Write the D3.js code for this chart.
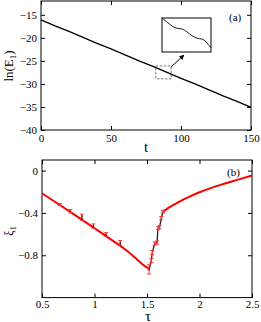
<!DOCTYPE html>
<html><head><meta charset="utf-8">
<script src="https://cdn.jsdelivr.net/npm/d3@7"></script>
<style>
html,body{margin:0;padding:0;background:#fff;}
svg{display:block;font-family:"Liberation Serif","Times New Roman",serif;}
</style></head>
<body><svg id="c" width="261" height="322"></svg>
<script>
// ---------- Panel (a) data ----------
const tVals   = [0,10,20,30,40,50,60,70,80,90,100,110,120,130,140,150];
const lnE     = [-16.1,-17.4,-18.6,-19.9,-21.2,-22.4,-23.7,-25.0,-26.2,-27.5,-28.8,-30.0,-31.3,-32.6,-33.8,-35.1];
const insetT  = [82.0,83.3,84.5,85.4,86.6,87.5,88.8,89.9,91.0,91.8,93.0];
const insetE  = [-26.12,-26.48,-26.85,-26.97,-26.98,-27.2,-27.6,-27.8,-27.8,-28.0,-28.55];
const aXTicks = [0,50,100,150];
const aYTicks = [-40,-35,-30,-25,-20,-15];

// ---------- Panel (b) data ----------
const fit1Tau = [0.5,0.6,0.7,0.8,0.9,1.0,1.1,1.2,1.3,1.4,1.45,1.5,1.52];
const fit1Xi  = [-0.214,-0.28,-0.345,-0.412,-0.478,-0.545,-0.612,-0.68,-0.75,-0.835,-0.88,-0.915,-0.925];
const fit2Tau = [1.652,1.7,1.8,1.9,2.0,2.1,2.2,2.3,2.4,2.5];
const fit2Xi  = [-0.388,-0.355,-0.297,-0.248,-0.205,-0.168,-0.135,-0.105,-0.076,-0.047];
const numTau  = [1.5,1.52,1.541,1.55,1.573,1.595,1.605,1.62,1.636,1.652];
const numXi   = [-0.915,-0.94,-0.85,-0.775,-0.69,-0.68,-0.545,-0.535,-0.45,-0.388];
const errTau  = [0.67,0.77,0.88,0.99,1.11,1.245,1.52,1.541,1.55,1.573,1.595,1.605,1.62,1.636,1.652];
const errXi   = [-0.323,-0.392,-0.466,-0.539,-0.617,-0.70,-0.935,-0.85,-0.775,-0.69,-0.68,-0.545,-0.535,-0.45,-0.388];
const errHi   = [-0.312,-0.368,-0.412,-0.504,-0.586,-0.66,-0.89,-0.83,-0.755,-0.675,-0.665,-0.53,-0.52,-0.435,-0.375];
const errLo   = [-0.33,-0.40,-0.47,-0.545,-0.62,-0.705,-0.977,-0.87,-0.795,-0.705,-0.695,-0.56,-0.55,-0.465,-0.40];
const bXTicks = [0.5,1,1.5,2,2.5];
const bXLabels= ["0.5","1","1.5","2","2.5"];
const bYTicks = [-0.8,-0.4,0];

const svg = d3.select("#c");
const FS = 11;

function frame(g, x, y, xt, yt, xfmt, yfmt, pad){
  const [x0,x1] = x.range(), [y1,y0] = y.range();
  const ax = (gen, tr) => {
    const a = g.append("g").attr("transform", tr).call(gen);
    a.select(".domain").remove();
    a.selectAll("line").attr("stroke","#000");
    a.selectAll("text").attr("font-size",FS).attr("fill","#000").attr("font-family","Liberation Serif, serif");
    return a;
  };
  ax(d3.axisBottom(x).tickValues(xt).tickSize(-4).tickPadding(pad).tickFormat(xfmt), `translate(0,${y1})`);
  ax(d3.axisTop(x).tickValues(xt).tickSize(-4).tickFormat(""), `translate(0,${y0})`);
  ax(d3.axisLeft(y).tickValues(yt).tickSize(-4).tickPadding(4).tickFormat(yfmt), `translate(${x0},0)`);
  ax(d3.axisRight(y).tickValues(yt).tickSize(-4).tickFormat(""), `translate(${x1},0)`);
  g.append("rect").attr("x",x0).attr("y",y0).attr("width",x1-x0).attr("height",y1-y0)
    .attr("fill","none").attr("stroke","#000").attr("stroke-width",1);
}

// ---------- Panel (a) ----------
const xa = d3.scaleLinear().domain([0,150]).range([41,251]);
const ya = d3.scaleLinear().domain([-40,-12]).range([130,1]);
const ga = svg.append("g");
frame(ga, xa, ya, aXTicks, aYTicks, d3.format("d"), d3.format("d"), 4);
ga.append("path").datum(tVals.map((t,i)=>[t,lnE[i]]))
  .attr("d", d3.line().x(d=>xa(d[0])).y(d=>ya(d[1])))
  .attr("fill","none").attr("stroke","#000").attr("stroke-width",1.3);

// dashed zoom box
const boxT = [82,93], boxE = [-26.1,-28.9];
ga.append("rect").attr("x",xa(boxT[0])).attr("y",ya(boxE[0]))
  .attr("width",xa(boxT[1])-xa(boxT[0])).attr("height",ya(boxE[1])-ya(boxE[0]))
  .attr("fill","none").attr("stroke","#555").attr("stroke-width",0.8).attr("stroke-dasharray","2.5,1.5");
// inset
const xi = d3.scaleLinear().domain(boxT).range([162,211]);
const yi = d3.scaleLinear().domain(boxE).range([18,52]);
ga.append("rect").attr("x",162).attr("y",18).attr("width",49).attr("height",34)
  .attr("fill","#fff").attr("stroke","#000").attr("stroke-width",1);
ga.append("path").datum(insetT.map((t,i)=>[t,insetE[i]]))
  .attr("d", d3.line().curve(d3.curveBasis).x(d=>xi(d[0])).y(d=>yi(d[1])))
  .attr("fill","none").attr("stroke","#000").attr("stroke-width",0.9);
// arrow
const defs = svg.append("defs");
defs.append("marker").attr("id","ah").attr("viewBox","0 0 10 10").attr("refX",9).attr("refY",5)
  .attr("markerWidth",5).attr("markerHeight",5).attr("orient","auto")
  .append("path").attr("d","M0,0L10,5L0,10z").attr("fill","#000");
ga.append("line").attr("x1",xa(boxT[1])).attr("y1",ya(boxE[0])+1).attr("x2",184).attr("y2",55)
  .attr("stroke","#000").attr("stroke-width",1).attr("marker-end","url(#ah)");
ga.append("text").attr("x",229).attr("y",21).attr("font-size",FS).text("(a)");
ga.append("text").attr("x",146).attr("y",152).attr("font-size",15).attr("text-anchor","middle").text("t");
const la = ga.append("text").attr("transform","translate(13,66) rotate(-90)")
  .attr("font-size",13).attr("text-anchor","middle");
la.append("tspan").text("ln(E");
la.append("tspan").attr("font-size",9).attr("dy",3).text("1");
la.append("tspan").attr("dy",-3).text(")");

// ---------- Panel (b) ----------
const xb = d3.scaleLinear().domain([0.5,2.5]).range([42,252]);
const yb = d3.scaleLinear().domain([-1.2,0.1]).range([297.6,160]);
const gb = svg.append("g");
frame(gb, xb, yb, bXTicks, bYTicks, (d,i)=>bXLabels[i], d=> d===0 ? "0" : d3.format(".1f")(d), 2.5);
const lineLin = d3.line().x(d=>xb(d[0])).y(d=>yb(d[1]));
const lineSm  = d3.line().curve(d3.curveMonotoneX).x(d=>xb(d[0])).y(d=>yb(d[1]));
gb.append("path").datum(numTau.map((t,i)=>[t,numXi[i]])).attr("d",lineLin)
  .attr("fill","none").attr("stroke","#222").attr("stroke-width",1.3);
gb.append("path").datum(fit1Tau.map((t,i)=>[t,fit1Xi[i]])).attr("d",lineSm)
  .attr("fill","none").attr("stroke","#f00").attr("stroke-width",2);
gb.append("path").datum(fit2Tau.map((t,i)=>[t,fit2Xi[i]])).attr("d",lineSm)
  .attr("fill","none").attr("stroke","#f00").attr("stroke-width",2);
const eb = gb.append("g").attr("stroke","#f33").attr("stroke-width",1);
errTau.forEach((t,i)=>{
  const x = xb(t);
  eb.append("line").attr("x1",x).attr("x2",x).attr("y1",yb(errLo[i])).attr("y2",yb(errHi[i]));
  eb.append("line").attr("x1",x-2).attr("x2",x+2).attr("y1",yb(errLo[i])).attr("y2",yb(errLo[i]));
  eb.append("line").attr("x1",x-2).attr("x2",x+2).attr("y1",yb(errHi[i])).attr("y2",yb(errHi[i]));
  if (i < 6) {
    gb.append("line").attr("x1",x).attr("x2",x).attr("y1",yb(errXi[i])).attr("y2",yb(errHi[i])+1)
      .attr("stroke","#222").attr("stroke-width",1.2);
  }
});
gb.append("text").attr("x",227).attr("y",175.5).attr("font-size",FS).text("(b)");
gb.append("text").attr("x",148).attr("y",320.5).attr("font-size",15).attr("text-anchor","middle").text("τ");
const lb = gb.append("text").attr("transform","translate(13,231) rotate(-90)")
  .attr("font-size",12).attr("text-anchor","middle");
lb.append("tspan").text("ξ");
lb.append("tspan").attr("font-size",8).attr("dy",3).text("1");
</script></body></html>
